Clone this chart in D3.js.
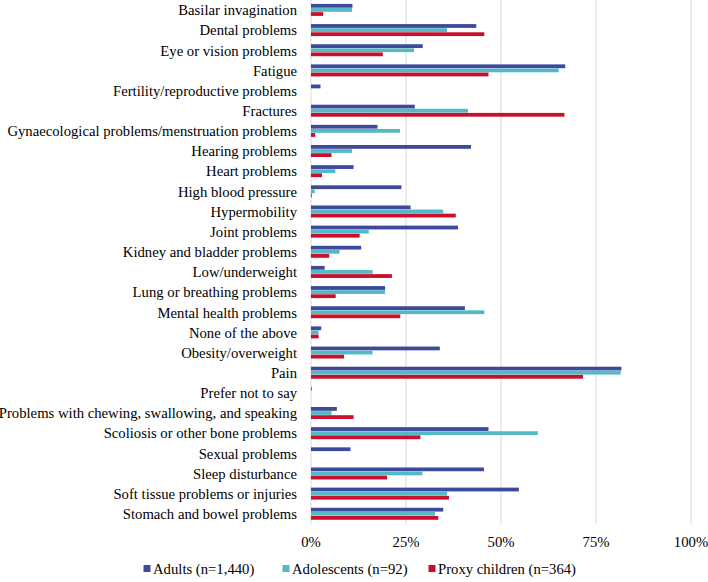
<!DOCTYPE html>
<html>
<head>
<meta charset="utf-8">
<script src="https://cdn.jsdelivr.net/npm/d3@7"></script>
<style>
  body { margin: 0; background: #fff; }
</style>
</head>
<body>
<svg id="chart" width="708" height="582"></svg>
<script>
// categories, top to bottom
const categories = [
  "Basilar invagination", "Dental problems", "Eye or vision problems", "Fatigue",
  "Fertility/reproductive problems", "Fractures",
  "Gynaecological problems/menstruation problems", "Hearing problems",
  "Heart problems", "High blood pressure", "Hypermobility", "Joint problems",
  "Kidney and bladder problems", "Low/underweight", "Lung or breathing problems",
  "Mental health problems", "None of the above", "Obesity/overweight", "Pain",
  "Prefer not to say", "Problems with chewing, swallowing, and speaking",
  "Scoliosis or other bone problems", "Sexual problems", "Sleep disturbance",
  "Soft tissue problems or injuries", "Stomach and bowel problems"
];

const seriesNames = ["Adults (n=1,440)", "Adolescents (n=92)", "Proxy children (n=364)"];
const seriesColors = ["#3d4a9b", "#54b9c4", "#c8102e"];

// percentages
const adults = [10.9, 43.5, 29.4, 66.9, 2.5, 27.3, 17.5, 42.1, 11.2, 23.8, 26.2, 38.7, 13.2,
  3.6, 19.5, 40.5, 2.7, 33.9, 81.7, 0.2, 6.8, 46.7, 10.4, 45.5, 54.7, 34.8];
const adolescents = [10.8, 35.8, 27.1, 65.2, 0, 41.3, 23.4, 10.8, 6.4, 1.0, 34.8, 15.2, 7.5,
  16.2, 19.5, 45.6, 2.0, 16.2, 81.5, 0, 5.4, 59.7, 0, 29.3, 35.8, 32.6];
const proxyChildren = [3.2, 45.6, 18.9, 46.7, 0, 66.7, 1.1, 5.4, 2.9, 0.2, 38.1, 12.8, 4.8,
  21.3, 6.5, 23.5, 2.0, 8.7, 71.6, 0, 11.2, 28.8, 0, 20.0, 36.3, 33.5];

const xTicks = [0, 25, 50, 75, 100];

const series = [adults, adolescents, proxyChildren];

const FONT = "'Liberation Serif', 'Times New Roman', Times, serif";
const FS = 14.7;
const svg = d3.select("#chart")
  .attr("font-family", FONT);
const plotLeft = 311, plotRight = 691, plotTop = 0, plotBottom = 524;

const x = d3.scaleLinear().domain([0, 100]).range([plotLeft, plotRight]);
const y = d3.scaleBand().domain(categories).range([plotTop, plotBottom]).paddingInner(0.39).paddingOuter(0.195);
const ySub = d3.scaleBand().domain(d3.range(series.length)).range([0, y.bandwidth()]);

// gridlines
svg.append("g").selectAll("line").data(xTicks).enter().append("line")
  .attr("x1", d => x(d)).attr("x2", d => x(d))
  .attr("y1", plotTop).attr("y2", plotBottom)
  .attr("stroke", "#d9d9d9").attr("stroke-width", 1);

// bars
series.forEach((vals, i) => {
  svg.append("g").selectAll("rect").data(vals).enter().append("rect")
    .attr("x", x(0))
    .attr("y", (d, j) => y(categories[j]) + ySub(i))
    .attr("width", d => x(d) - x(0))
    .attr("height", ySub.bandwidth() - 0.3)
    .attr("fill", seriesColors[i]);
});

// category labels
svg.append("g").selectAll("text").data(categories).enter().append("text")
  .attr("x", 297)
  .attr("y", d => y(d) + y.bandwidth() / 2)
  .attr("dy", "0.35em")
  .attr("text-anchor", "end")
  .attr("font-size", FS)
  .text(d => d);

// x tick labels
svg.append("g").selectAll("text").data(xTicks).enter().append("text")
  .attr("x", d => x(d))
  .attr("y", 547)
  .attr("text-anchor", "middle")
  .attr("font-size", FS)
  .text(d => d + "%");

// legend
const legendX = [143.5, 282.5, 428.5];
const lg = svg.append("g").selectAll("g").data(seriesNames).enter().append("g")
  .attr("transform", (d, i) => `translate(${legendX[i]},568.5)`);
lg.append("rect").attr("x", 0).attr("y", -3.5).attr("width", 7).attr("height", 7)
  .attr("fill", (d, i) => seriesColors[i]);
lg.append("text").attr("x", 9.5).attr("dy", "0.35em")
  .attr("font-size", FS).text(d => d);
</script>
</body>
</html>
